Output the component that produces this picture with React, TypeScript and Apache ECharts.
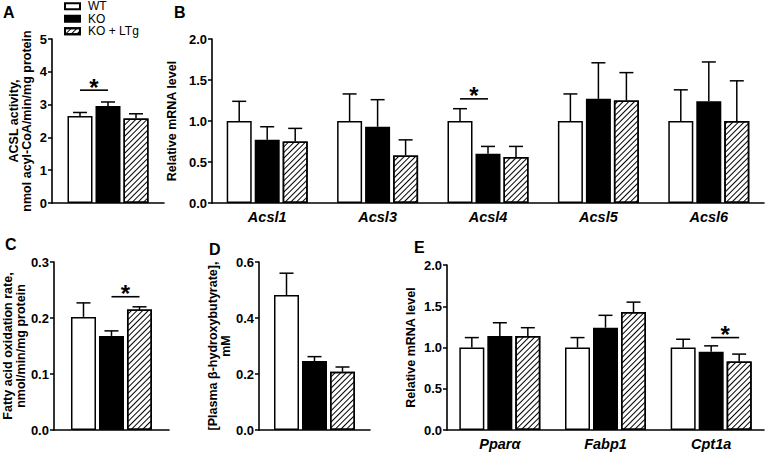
import React, { useEffect, useRef } from 'react';
import * as echarts from 'echarts';

// ---------- data ----------
const groups = ['WT', 'KO', 'KO + LTg'];

// Panel A: ACSL activity
const aCategories = ['ACSL'];
const aWT = [2.65];
const aWTsem = [0.11];
const aKO = [2.96];
const aKOsem = [0.12];
const aLTg = [2.58];
const aLTgsem = [0.14];

// Panel B: Acsl mRNA
const bCategories = ['Acsl1', 'Acsl3', 'Acsl4', 'Acsl5', 'Acsl6'];
const bWT = [1.0, 1.0, 1.0, 1.0, 1.0];
const bWTsem = [0.24, 0.33, 0.15, 0.33, 0.38];
const bKO = [0.77, 0.93, 0.6, 1.27, 1.24];
const bKOsem = [0.16, 0.33, 0.09, 0.44, 0.48];
const bLTg = [0.75, 0.58, 0.56, 1.25, 1.0];
const bLTgsem = [0.16, 0.19, 0.13, 0.34, 0.49];

// Panel C: fatty acid oxidation rate
const cCategories = ['FAO'];
const cWT = [0.202];
const cWTsem = [0.025];
const cKO = [0.168];
const cKOsem = [0.009];
const cLTg = [0.215];
const cLTgsem = [0.005];

// Panel D: plasma beta-hydroxybutyrate
const dCategories = ['BHB'];
const dWT = [0.482];
const dWTsem = [0.078];
const dKO = [0.246];
const dKOsem = [0.016];
const dLTg = [0.208];
const dLTgsem = [0.017];

// Panel E: oxidation genes mRNA
const eCategories = ['Pparα', 'Fabp1', 'Cpt1a'];
const eWT = [1.0, 1.0, 1.0];
const eWTsem = [0.12, 0.12, 0.1];
const eKO = [1.14, 1.24, 0.95];
const eKOsem = [0.16, 0.15, 0.07];
const eLTg = [1.14, 1.43, 0.83];
const eLTgsem = [0.1, 0.12, 0.09];

// significance: [category index, y value, from group, to group]
const aSig = [[0, 3.44, 0, 1]];
const bSig = [[2, 1.27, 0, 1]];
const cSig = [[0, 0.238, 1, 2]];
const dSig: number[][] = [];
const eSig = [[2, 1.12, 1, 2]];

// ---------- styles ----------
const FONT = '"Liberation Sans", Arial, Helvetica, sans-serif';
const BAR_W = 25;
const BAR_GAP = 0.12;

const hatch = {
  symbol: 'rect',
  symbolSize: 1,
  color: '#000',
  backgroundColor: 'rgba(0,0,0,0)',
  dashArrayX: [1, 0],
  dashArrayY: [1, 2.6],
  rotation: -Math.PI / 4,
};

const barStyles = [
  { color: '#fff', borderColor: '#000', borderWidth: 1.5 },
  { color: '#000', borderColor: '#000', borderWidth: 1.5 },
  { color: '#fff', borderColor: '#000', borderWidth: 1.5, decal: hatch },
];

const panels = [
  {
    letter: 'A', letterPos: [3, 4],
    grid: { left: 52, top: 39, width: 112, height: 164 },
    cats: aCategories, showCats: false, max: 5, interval: 1, dec: 0,
    means: [aWT, aKO, aLTg], sems: [aWTsem, aKOsem, aLTgsem],
    title: 'ACSL activity,\nnmol acyl-CoA/min/mg protein', nameGap: 19, sig: aSig,
  },
  {
    letter: 'B', letterPos: [174, 4],
    grid: { left: 212, top: 39, width: 552, height: 164 },
    cats: bCategories, showCats: true, max: 2, interval: 0.5, dec: 1,
    means: [bWT, bKO, bLTg], sems: [bWTsem, bKOsem, bLTgsem],
    title: 'Relative mRNA level', nameGap: 30, sig: bSig,
  },
  {
    letter: 'C', letterPos: [5, 236],
    grid: { left: 52, top: 262, width: 117, height: 168 },
    cats: cCategories, showCats: false, max: 0.3, interval: 0.1, dec: 1,
    means: [cWT, cKO, cLTg], sems: [cWTsem, cKOsem, cLTgsem],
    title: 'Fatty acid oxidation rate,\nnmol/min/mg protein', nameGap: 19, sig: cSig,
  },
  {
    letter: 'D', letterPos: [209, 241],
    grid: { left: 259, top: 262, width: 111, height: 168 },
    cats: dCategories, showCats: false, max: 0.6, interval: 0.2, dec: 1,
    means: [dWT, dKO, dLTg], sems: [dWTsem, dKOsem, dLTgsem],
    title: '[Plasma β-hydroxybutyrate],\nmM', nameGap: 24, sig: dSig,
  },
  {
    letter: 'E', letterPos: [414, 239],
    grid: { left: 447, top: 265, width: 317, height: 165 },
    cats: eCategories, showCats: true, max: 2, interval: 0.5, dec: 1,
    means: [eWT, eKO, eLTg], sems: [eWTsem, eKOsem, eLTgsem],
    title: 'Relative mRNA level', nameGap: 30, sig: eSig,
  },
];

function offsetOf(s: number) {
  return (s - 1) * BAR_W * (1 + BAR_GAP);
}

function buildOption() {
  const grid: any[] = [];
  const xAxis: any[] = [];
  const yAxis: any[] = [];
  const series: any[] = [];
  const graphic: any[] = [];

  panels.forEach((p, i) => {
    grid.push({ ...p.grid });
    xAxis.push({
      type: 'category',
      gridIndex: i,
      data: p.cats,
      axisLine: { show: true, lineStyle: { color: '#000', width: 1.6 } },
      axisTick: { show: false },
      splitLine: { show: false },
      axisLabel: {
        show: p.showCats,
        color: '#000',
        fontFamily: FONT,
        fontSize: 14.5,
        fontWeight: 'bold',
        fontStyle: 'italic',
        margin: 6,
      },
    });
    yAxis.push({
      type: 'value',
      gridIndex: i,
      min: 0,
      max: p.max,
      interval: p.interval,
      name: p.title,
      nameLocation: 'middle',
      nameGap: p.nameGap,
      nameTextStyle: {
        color: '#000',
        fontFamily: FONT,
        fontSize: 12.5,
        fontWeight: 'bold',
        lineHeight: 13,
        align: 'center',
      },
      axisLine: { show: true, lineStyle: { color: '#000', width: 1.6 } },
      axisTick: { show: true, length: 4, lineStyle: { color: '#000', width: 1.5 } },
      splitLine: { show: false },
      axisLabel: {
        color: '#000',
        fontFamily: FONT,
        fontSize: 13,
        fontWeight: 'bold',
        margin: 5,
        formatter: (v: number) => v.toFixed(p.dec),
      },
    });

    p.means.forEach((m, s) => {
      series.push({
        type: 'bar',
        name: groups[s],
        xAxisIndex: i,
        yAxisIndex: i,
        data: m,
        barWidth: BAR_W,
        barGap: `${BAR_GAP * 100}%`,
        itemStyle: barStyles[s],
        silent: true,
        z: 2,
      });
    });

    p.means.forEach((m, s) => {
      const sem = p.sems[s];
      series.push({
        type: 'custom',
        name: `${groups[s]} SEM`,
        xAxisIndex: i,
        yAxisIndex: i,
        silent: true,
        z: 3,
        data: m.map((v, k) => [k, v, v + sem[k]]),
        renderItem: (_params: any, api: any) => {
          const base = api.coord([api.value(0), api.value(1)]);
          const top = api.coord([api.value(0), api.value(2)]);
          const x = base[0] + offsetOf(s);
          return {
            type: 'group',
            children: [
              { type: 'line', shape: { x1: x, y1: base[1], x2: x, y2: top[1] }, style: { stroke: '#000', lineWidth: 1.5 } },
              { type: 'line', shape: { x1: x - 7, y1: top[1], x2: x + 7, y2: top[1] }, style: { stroke: '#000', lineWidth: 1.5 } },
            ],
          };
        },
      });
    });

    if (p.sig.length) {
      series.push({
        type: 'custom',
        name: `sig ${p.letter}`,
        xAxisIndex: i,
        yAxisIndex: i,
        silent: true,
        z: 3,
        data: p.sig,
        renderItem: (_params: any, api: any) => {
          const c = api.coord([api.value(0), api.value(1)]);
          const x1 = c[0] + offsetOf(api.value(2));
          const x2 = c[0] + offsetOf(api.value(3));
          return {
            type: 'group',
            children: [
              { type: 'line', shape: { x1, y1: c[1], x2, y2: c[1] }, style: { stroke: '#000', lineWidth: 1.6 } },
              {
                type: 'text',
                x: (x1 + x2) / 2,
                y: c[1] - 3,
                style: {
                  text: '*',
                  fill: '#000',
                  font: `bold 24px ${FONT}`,
                  textAlign: 'center',
                  textVerticalAlign: 'middle',
                },
              },
            ],
          };
        },
      });
    }

    graphic.push({
      type: 'text',
      left: p.letterPos[0],
      top: p.letterPos[1],
      style: { text: p.letter, fill: '#000', font: `bold 16px ${FONT}` },
    });
  });

  return {
    animation: false,
    backgroundColor: '#fff',
    grid,
    xAxis,
    yAxis,
    series,
    graphic,
    legend: {
      data: groups,
      orient: 'vertical',
      left: 64,
      top: 0,
      padding: 0,
      itemWidth: 15,
      itemHeight: 6,
      itemGap: 0,
      icon: 'rect',
      selectedMode: false,
      textStyle: { color: '#000', fontFamily: FONT, fontSize: 12, lineHeight: 12.5, padding: [0, 0, 0, 3] },
    },
  };
}

export default function App() {
  const ref = useRef<HTMLDivElement>(null);
  useEffect(() => {
    if (!ref.current) return;
    const chart = echarts.init(ref.current, undefined, { renderer: 'svg' });
    chart.setOption(buildOption() as any);
    return () => chart.dispose();
  }, []);
  return (
    <div
      ref={ref}
      style={{ position: 'fixed', left: 0, top: 0, width: 766, height: 453, background: '#fff' }}
    />
  );
}
